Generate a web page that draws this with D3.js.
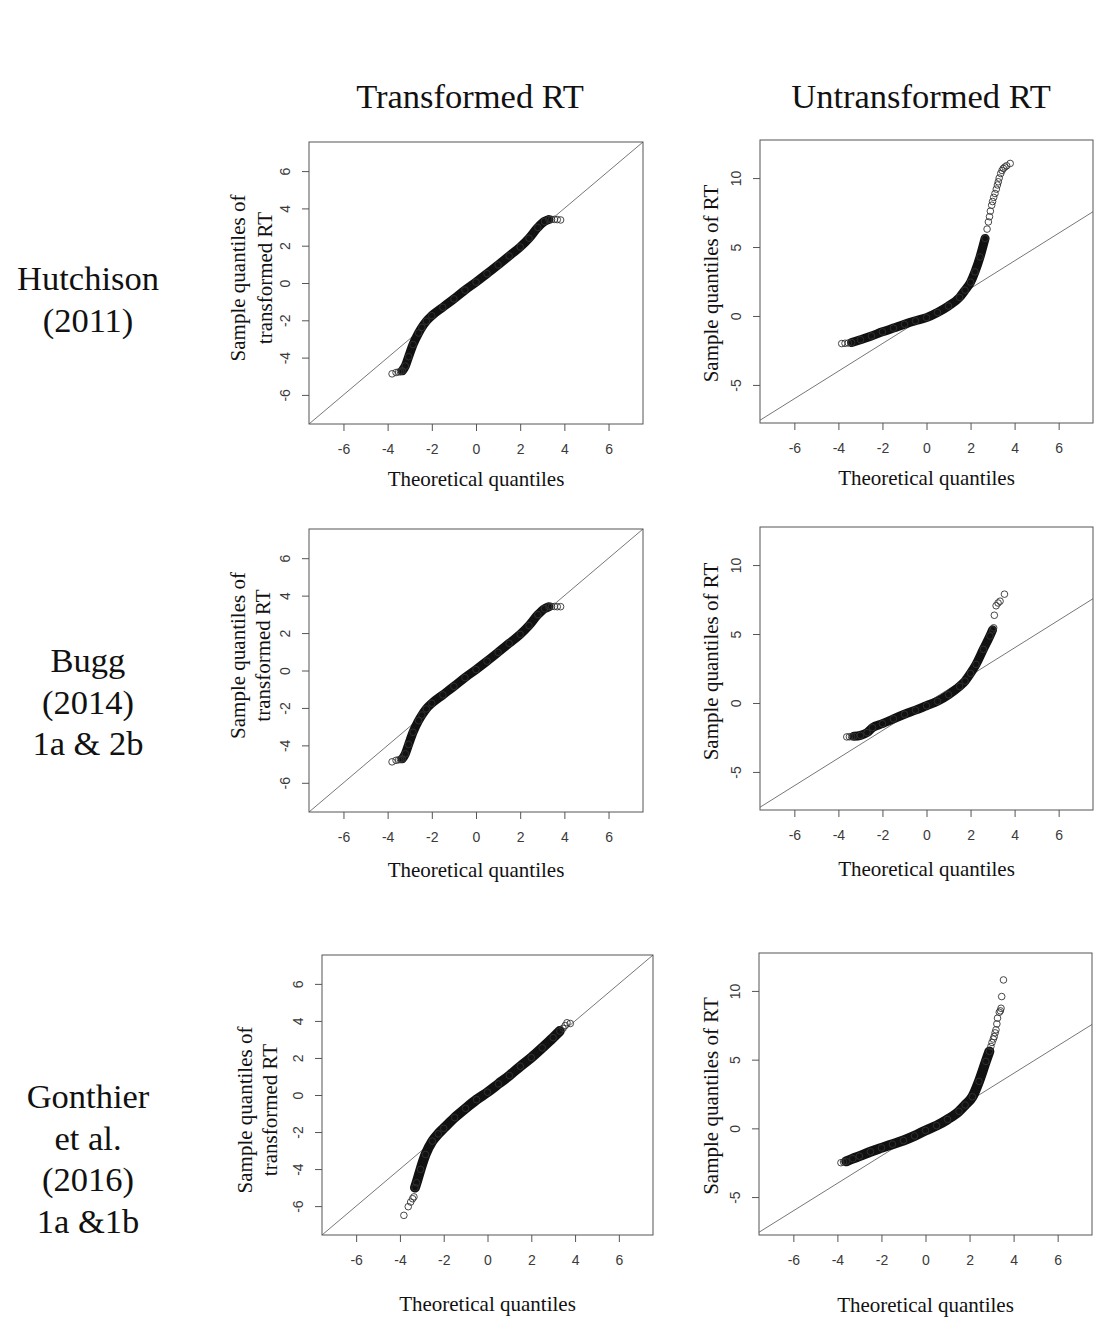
<!DOCTYPE html>
<html>
<head>
<meta charset="utf-8">
<script src="https://cdn.jsdelivr.net/npm/d3@7"></script>
<style>
  body { margin: 0; background: #fff; }
  svg text { font-family: "Liberation Serif", "Times New Roman", serif; fill: #111; }
  .tick text { font-family: "Liberation Sans", Arial, sans-serif; fill: #3a3a3a; }
</style>
</head>
<body>
<svg id="chart" width="1107" height="1331"></svg>
<script>
// labels
const colTitles = ["Transformed RT", "Untransformed RT"];
const rowLabels = [
  ["Hutchison", "(2011)"],
  ["Bugg", "(2014)", "1a & 2b"],
  ["Gonthier", "et al.", "(2016)", "1a &1b"]
];
const xTitle = "Theoretical quantiles";
const yTitleTrans = ["Sample quantiles of", "transformed RT"];
const yTitleRaw = ["Sample quantiles of RT"];

// axes
const xLim = [-7, 7];
const yLimTrans = [-7, 7];
const yLimRaw = [-7, 12];
const xTicks = [-6, -4, -2, 0, 2, 4, 6];
const yTicksTrans = [-6, -4, -2, 0, 2, 4, 6];
const yTicksRaw = [-5, 0, 5, 10];

// [theoretical, sample]: dense band + sparse outlying points
const hutchTransBody = [[-3.34,-4.71],[-3.2,-4.45],[-3.05,-3.95],[-2.85,-3.3],[-2.6,-2.68],[-2.45,-2.38],[-2.25,-2.05],[-2.0,-1.75],[-1.5,-1.3],[-1.0,-0.85],[-0.5,-0.38],[0,0.05],[0.5,0.5],[1.0,0.97],[1.5,1.45],[2.0,1.93],[2.4,2.4],[2.8,2.98],[3.1,3.3],[3.3,3.4]];
const hutchTransTail = [[-3.8,-4.87],[-3.62,-4.8],[-3.5,-4.77],[-3.42,-4.75],[3.42,3.41],[3.55,3.41],[3.68,3.4],[3.83,3.38]];

const hutchRawBody = [[-3.4,-1.93],[-3.0,-1.72],[-2.5,-1.45],[-2.0,-1.15],[-1.5,-0.88],[-1.0,-0.6],[-0.5,-0.35],[0,-0.12],[0.5,0.25],[1.0,0.72],[1.5,1.35],[1.75,1.87],[2.0,2.45],[2.2,3.2],[2.43,4.28],[2.66,5.62]];
const hutchRawTail = [[-3.85,-2.0],[-3.7,-1.98],[-3.55,-1.96],[2.75,6.3],[2.81,6.82],[2.86,7.2],[2.9,7.6],[2.96,8.03],[3.0,8.3],[3.05,8.6],[3.11,8.88],[3.17,9.2],[3.22,9.5],[3.26,9.73],[3.3,10.0],[3.37,10.33],[3.43,10.55],[3.49,10.7],[3.56,10.8],[3.64,10.89],[3.8,11.06]];

const buggTransBody = [[-3.34,-4.72],[-3.2,-4.45],[-3.05,-3.95],[-2.85,-3.3],[-2.6,-2.68],[-2.45,-2.38],[-2.25,-2.05],[-2.0,-1.75],[-1.5,-1.3],[-1.0,-0.85],[-0.5,-0.38],[0,0.05],[0.5,0.5],[1.0,0.97],[1.5,1.45],[2.0,1.93],[2.4,2.4],[2.8,2.98],[3.1,3.3],[3.3,3.41]];
const buggTransTail = [[-3.8,-4.88],[-3.62,-4.8],[-3.5,-4.77],[-3.42,-4.75],[3.42,3.42],[3.55,3.42],[3.68,3.41],[3.83,3.41]];

const buggRawBody = [[-3.3,-2.42],[-3.0,-2.35],[-2.7,-2.15],[-2.45,-1.78],[-2.0,-1.5],[-1.5,-1.15],[-1.0,-0.82],[-0.5,-0.52],[0,-0.2],[0.5,0.12],[1.0,0.6],[1.5,1.2],[1.75,1.59],[2.0,2.15],[2.25,2.8],[2.58,3.89],[2.88,4.86],[3.0,5.3]];
const buggRawTail = [[-3.62,-2.46],[-3.5,-2.45],[-3.4,-2.44],[3.05,5.45],[3.08,6.36],[3.16,7.05],[3.25,7.25],[3.34,7.38],[3.54,7.89]];

const gonthTransBody = [[-3.31,-5.0],[-3.24,-4.74],[-3.06,-4.02],[-2.83,-3.21],[-2.52,-2.49],[-2.25,-2.1],[-2.0,-1.8],[-1.5,-1.22],[-1.0,-0.72],[-0.5,-0.25],[0,0.15],[0.5,0.6],[1.0,1.05],[1.5,1.55],[2.0,2.02],[2.5,2.55],[3.0,3.1],[3.3,3.45]];
const gonthTransTail = [[-3.82,-6.5],[-3.62,-6.03],[-3.51,-5.78],[-3.42,-5.6],[-3.36,-5.5],[3.45,3.6],[3.55,3.75],[3.63,3.9],[3.78,3.86]];

const gonthRawBody = [[-3.6,-2.4],[-3.3,-2.2],[-3.0,-2.02],[-2.5,-1.7],[-2.0,-1.42],[-1.5,-1.15],[-1.0,-0.88],[-0.5,-0.55],[0,-0.15],[0.5,0.2],[1.0,0.65],[1.52,1.24],[1.8,1.7],[2.13,2.3],[2.43,3.42],[2.74,4.87],[2.9,5.6]];
const gonthRawTail = [[-3.84,-2.5],[-3.72,-2.45],[2.97,5.96],[3.02,6.25],[3.08,6.5],[3.12,6.68],[3.16,6.95],[3.2,7.17],[3.24,7.6],[3.27,8.02],[3.35,8.45],[3.4,8.55],[3.43,8.74],[3.46,9.59],[3.54,10.8]];

const svg = d3.select("#chart");

// layout of the six panels (plot box in pixels)
const panels = [
  { box: [309, 142, 643, 424], body: hutchTransBody, tail: hutchTransTail, raw: false, band: 9, xt: 55, yl: [71, 44], yc: -5 },
  { box: [760, 140, 1093, 423], body: hutchRawBody, tail: hutchRawTail, raw: true, band: 9, xt: 55, yl: [49], yc: 2 },
  { box: [309, 529, 643, 812], body: buggTransBody, tail: buggTransTail, raw: false, band: 9, xt: 58, yl: [71, 46], yc: -15 },
  { box: [760, 527, 1093, 810], body: buggRawBody, tail: buggRawTail, raw: true, band: 9, xt: 59, yl: [49], yc: -7 },
  { box: [322, 955, 653, 1235], body: gonthTransBody, tail: gonthTransTail, raw: false, band: 10, xt: 69, yl: [77, 52], yc: 15 },
  { box: [759, 953, 1092, 1235], body: gonthRawBody, tail: gonthRawTail, raw: true, band: 10, xt: 70, yl: [48], yc: 2 }
];

const pad = lim => [lim[0] - 0.04 * (lim[1] - lim[0]), lim[1] + 0.04 * (lim[1] - lim[0])];

panels.forEach((p, i) => {
  const [x0, y0, x1, y1] = p.box;
  const yLim = p.raw ? yLimRaw : yLimTrans;
  const x = d3.scaleLinear().domain(pad(xLim)).range([x0, x1]);
  const y = d3.scaleLinear().domain(pad(yLim)).range([y1, y0]);
  const g = svg.append("g");

  const clipId = "clip" + i;
  g.append("clipPath").attr("id", clipId)
    .append("rect").attr("x", x0).attr("y", y0).attr("width", x1 - x0).attr("height", y1 - y0);

  // reference line y = x
  const d = pad(xLim);
  g.append("line")
    .attr("clip-path", `url(#${clipId})`)
    .attr("x1", x(d[0])).attr("y1", y(d[0]))
    .attr("x2", x(d[1])).attr("y2", y(d[1]))
    .attr("stroke", "#777").attr("stroke-width", 1);

  // dense band of points
  const line = d3.line().x(v => x(v[0])).y(v => y(v[1])).curve(d3.curveMonotoneX);
  g.append("path")
    .attr("d", line(p.body))
    .attr("fill", "none")
    .attr("stroke", "#111")
    .attr("stroke-width", p.band)
    .attr("stroke-linecap", "round")
    .attr("stroke-linejoin", "round");

  g.selectAll("circle.pt")
    .data(p.body.concat(p.tail))
    .join("circle")
    .attr("class", "pt")
    .attr("cx", v => x(v[0]))
    .attr("cy", v => y(v[1]))
    .attr("r", 3.3)
    .attr("fill", "none")
    .attr("stroke", "#333")
    .attr("stroke-width", 0.9);

  // box
  g.append("rect")
    .attr("x", x0).attr("y", y0).attr("width", x1 - x0).attr("height", y1 - y0)
    .attr("fill", "none").attr("stroke", "#555").attr("stroke-width", 1);

  // x axis
  const gx = g.append("g")
    .attr("transform", `translate(0,${y1})`)
    .call(d3.axisBottom(x).tickValues(xTicks).tickSize(7).tickFormat(v => String(v)));
  gx.select(".domain").remove();
  gx.selectAll(".tick line").attr("stroke", "#555");
  gx.selectAll(".tick text").attr("y", 25).attr("dy", "0.35em").style("font-size", "14px");

  // y axis, labels turned like R's default
  const gy = g.append("g")
    .attr("transform", `translate(${x0},0)`)
    .call(d3.axisLeft(y).tickValues(p.raw ? yTicksRaw : yTicksTrans).tickSize(7).tickFormat(v => String(v)));
  gy.select(".domain").remove();
  gy.selectAll(".tick line").attr("stroke", "#555");
  gy.selectAll(".tick text")
    .attr("transform", "rotate(-90)")
    .attr("x", 0).attr("y", -19).attr("dy", 0)
    .style("text-anchor", "middle")
    .style("font-size", "14px");

  // axis titles
  g.append("text")
    .attr("x", (x0 + x1) / 2).attr("y", y1 + p.xt)
    .attr("dominant-baseline", "central")
    .attr("text-anchor", "middle")
    .style("font-size", "21px")
    .text(xTitle);

  const yTitle = p.raw ? yTitleRaw : yTitleTrans;
  const cy = (y0 + y1) / 2 + p.yc;
  yTitle.forEach((t, k) => {
    const cx = x0 - p.yl[k];
    g.append("text")
      .attr("transform", `translate(${cx},${cy}) rotate(-90)`)
      .attr("dominant-baseline", "central")
      .attr("text-anchor", "middle")
      .style("font-size", "21px")
      .text(t);
  });
});

// column titles
const colX = [470, 921];
colTitles.forEach((t, i) => {
  svg.append("text")
    .attr("x", colX[i]).attr("y", 96)
    .attr("dominant-baseline", "central")
    .attr("text-anchor", "middle")
    .style("font-size", "34.5px")
    .text(t);
});

// row labels
const rowTop = [278, 660, 1096];
rowLabels.forEach((lines, r) => {
  lines.forEach((t, k) => {
    svg.append("text")
      .attr("x", 88).attr("y", rowTop[r] + k * 41.7)
      .attr("dominant-baseline", "central")
      .attr("text-anchor", "middle")
      .style("font-size", "34.5px")
      .text(t);
  });
});
</script>
</body>
</html>
